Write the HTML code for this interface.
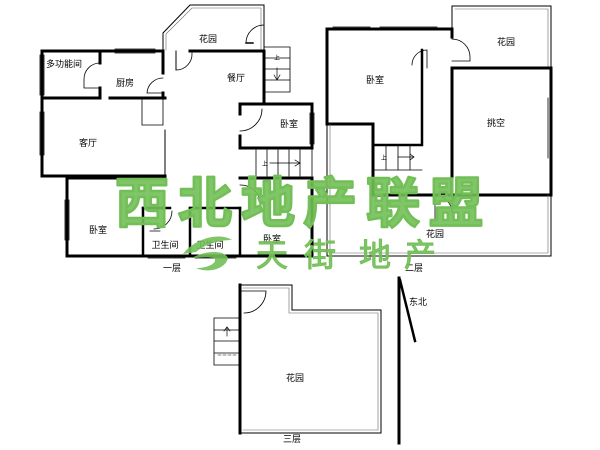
<!DOCTYPE html>
<html><head><meta charset="utf-8"><style>
html,body{margin:0;padding:0;background:#fff;}
svg{display:block}
text{font-family:"Liberation Sans","Noto Sans CJK SC",sans-serif;}
</style></head><body>
<svg width="600" height="450" viewBox="0 0 600 450" xmlns="http://www.w3.org/2000/svg">
<rect width="600" height="450" fill="#fff"/>
<g fill="none" stroke="#000" stroke-linecap="square">
<path d="M163 50 V33 L190 5 H264 V50" stroke-width="1"/>
<path d="M166 50 V34 L192 8 H261 V50" stroke-width="0.6" stroke="#666"/>
<path d="M246 43 A18 18 0 0 1 264 25" stroke-width="0.8"/>
<path d="M246 43 H253" stroke-width="1.5"/>
<path d="M42 51 H163 M190 51 H264 V104" stroke-width="3"/>
<path d="M42 51 V176 H165" stroke-width="3"/>
<path d="M42 98 H100 M110 98 H165" stroke-width="3"/>
<path d="M100 51 V63 M100 88 V98" stroke-width="3"/>
<path d="M163 51 V73 M163 93 V98" stroke-width="3"/>
<path d="M165 130 V176" stroke-width="1"/>
<path d="M142 98 V125 H163 V98" stroke-width="0.8"/>
<path d="M115 49 H155 M115 53 H155" stroke-width="0.8"/>
<path d="M40 55 V95 M44 55 V95 M40 112 V155 M44 112 V155" stroke-width="0.8"/>
<path d="M100 63 A16 16 0 0 0 84 79 V88 H100" stroke-width="0.8"/>
<path d="M163 78 A16 16 0 0 0 147 93 H163" stroke-width="0.8"/>
<path d="M176 70 A16 16 0 0 0 192 53" stroke-width="0.8"/>
<path d="M176 70 V51" stroke-width="1"/>
<path d="M264 47 H290 V92 H264 M264 58 H290 M264 69 H290 M264 80 H290" stroke-width="0.8"/>
<text x="277" y="60" font-size="6" fill="#000" stroke="none" text-anchor="middle">上</text>
<path d="M277 68 V80 M274 75 L277 80 L280 75" stroke-width="0.7"/>
<path d="M240 104 H312 V148 H240 V136 M240 104 V114" stroke-width="3"/>
<path d="M240 131 A22 22 0 0 0 262 109" stroke-width="0.8"/>
<path d="M310 113 V144 M314 113 V144" stroke-width="0.8"/>
<path d="M256 150 V176 M267 150 V176 M278 150 V176 M289 150 V176 M300 150 V176 M312 148 V176" stroke-width="0.8"/>
<path d="M270 163 H299 M295 160 L300 163 L295 166" stroke-width="0.7"/>
<text x="265" y="166" font-size="6" fill="#000" stroke="none" text-anchor="middle">上</text>
<path d="M67 178 H165 M67 178 V256 H312 V178 H240" stroke-width="3"/>
<path d="M143 208 V256 M190 208 V256 M240 208 V256" stroke-width="2.5"/>
<path d="M143 208 H170 M190 208 H240" stroke-width="2.5"/>
<path d="M65 200 V240 M69 200 V240" stroke-width="0.8"/>
<path d="M148 258 H185 M195 258 H236" stroke-width="0.8"/>
<path d="M150 231 H160 M172 211 A18 18 0 0 1 154 229" stroke-width="0.8"/>
<path d="M240 185 A20 20 0 0 1 260 200" stroke-width="0.8"/>
<path d="M312 180 V250" stroke-width="1"/>
<path d="M452 6 H551 V68 M452 6 V30" stroke-width="1"/>
<path d="M455 9 H548 V68" stroke-width="0.6" stroke="#666"/>
<path d="M327 29 H452 M327 29 V124 H373 V195 H452" stroke-width="3"/>
<path d="M452 68 H551 V195 H452 V68 M452 30 V37" stroke-width="3"/>
<path d="M422 68 V145 H373 M422 50 V68" stroke-width="2.5"/>
<path d="M333 27 H370 M380 27 H437" stroke-width="0.8"/>
<path d="M548 98 V158 M552 98 V158" stroke-width="0.8"/>
<path d="M452 39 A18 18 0 0 1 470 57 V61 H452" stroke-width="0.8"/>
<path d="M427 68 V50 A15 15 0 0 0 412 65" stroke-width="0.8"/>
<path d="M373 170 H422 M386 145 V170 M398 145 V170 M410 145 V170" stroke-width="0.8"/>
<path d="M398 157 H413 M410 154 L414 157 L410 160" stroke-width="0.7"/>
<text x="384" y="160" font-size="6" fill="#000" stroke="none" text-anchor="middle">上</text>
<path d="M327 124 V256 H551 V195" stroke-width="1"/>
<path d="M330 124 V253 H548 V195" stroke-width="0.6" stroke="#666"/>
<path d="M434 195 A18 18 0 0 1 452 213 V195" stroke-width="0.8"/>
<path d="M435 196 V220" stroke-width="0.8"/>
<path d="M240 285 V433" stroke-width="3"/>
<path d="M240 285 H292 V310 H381 V433 H240" stroke-width="1"/>
<path d="M243 288 H289 V313 H378 V430 H243" stroke-width="0.6" stroke="#666"/>
<path d="M240 291 H266 A22 22 0 0 1 244 313" stroke-width="0.8"/>
<path d="M214 318 H240 V365 H214 Z M214 330 H240 M214 341 H240 M214 353 H240" stroke-width="0.8"/>
<path d="M227 336 V328 M224 331 L227 327 L230 331" stroke-width="0.7"/>
<path d="M218 355 H236" stroke-width="0.6" stroke-dasharray="3 2"/>
<path d="M399 278 V443" stroke-width="3"/>
<path d="M400 280 L415 341" stroke-width="2.5"/>
</g>
<g font-size="9" fill="#000" text-anchor="middle">
<text x="208" y="42">花园</text>
<text x="64" y="67">多功能间</text>
<text x="125" y="86">厨房</text>
<text x="236" y="81">餐厅</text>
<text x="289" y="127">卧室</text>
<text x="88" y="146">客厅</text>
<text x="98" y="233">卧室</text>
<text x="165" y="248">卫生间</text>
<text x="210" y="248">卫生间</text>
<text x="272" y="242">卧室</text>
<text x="172" y="271">一层</text>
<text x="375" y="83">卧室</text>
<text x="506" y="45">花园</text>
<text x="496" y="126">挑空</text>
<text x="435" y="237">花园</text>
<text x="414" y="271">二层</text>
<text x="418" y="305">东北</text>
<text x="295" y="381">花园</text>
<text x="292" y="442">三层</text>
</g>
<g fill="#72bf57" fill-opacity="0.9" stroke="#72bf57" stroke-width="2.5" stroke-linejoin="round" font-weight="bold" font-size="54" text-anchor="middle">
<text x="142" y="222">西</text>
<text x="205" y="222">北</text>
<text x="268" y="222">地</text>
<text x="330" y="222">产</text>
<text x="393" y="222">联</text>
<text x="456" y="222">盟</text>
</g>
<g fill="#72bf57" fill-opacity="0.9" stroke="#72bf57" stroke-width="1" font-size="32" text-anchor="middle">
<text x="272" y="266">天</text>
<text x="320" y="266">街</text>
<text x="375" y="266">地</text>
<text x="420" y="266">产</text>
</g>
<g fill="#72bf57" fill-opacity="0.9">
<path d="M183 254 C195 238 220 232 232 240 C220 240 205 244 196 252 Z"/>
<path d="M192 258 C205 250 225 250 228 258 C226 268 210 274 196 268 C210 268 218 262 214 258 C206 256 198 258 192 258 Z"/>
</g>
</svg>
</body></html>
